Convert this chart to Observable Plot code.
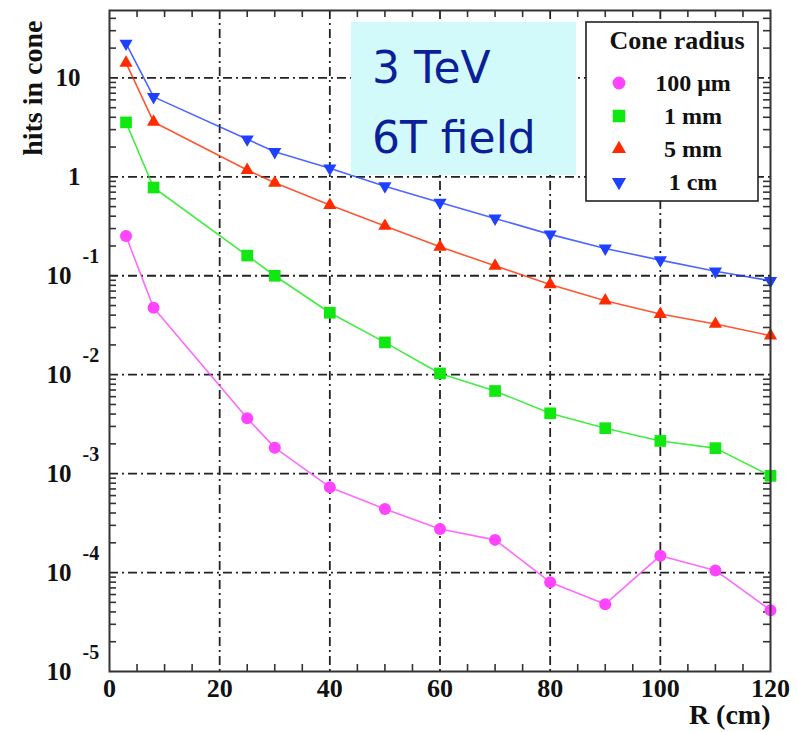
<!DOCTYPE html>
<html><head><meta charset="utf-8">
<script src="https://cdn.jsdelivr.net/npm/d3@7"></script>
<script src="https://cdn.jsdelivr.net/npm/@observablehq/plot@0.6"></script>
<style>body{margin:0;background:#fff}</style>
</head><body><div id="chart"></div>
<script>
// ---- data ----
const radiusR = [3, 8, 25, 30, 40, 50, 60, 70, 80, 90, 100, 110, 120];
const hits100um = [0.252, 0.0475, 0.00363, 0.00183, 0.00073, 0.00044, 0.000276, 0.000214, 0.00008, 0.0000479, 0.000148, 0.000105, 0.0000416];
const hits1mm = [3.55, 0.78, 0.16, 0.1, 0.0423, 0.0212, 0.0103, 0.00684, 0.00407, 0.00288, 0.00214, 0.00181, 0.00095];
const hits5mm = [14.2, 3.59, 1.17, 0.87, 0.518, 0.318, 0.196, 0.126, 0.0818, 0.056, 0.041, 0.0325, 0.0248];
const hits1cm = [22.3, 6.43, 2.40, 1.79, 1.22, 0.805, 0.551, 0.38, 0.262, 0.189, 0.144, 0.111, 0.089];
const seriesNames = ["100 \u03bcm", "1 mm", "5 mm", "1 cm"];
const seriesValues = [hits100um, hits1mm, hits5mm, hits1cm];
const xTickValues = [0, 20, 40, 60, 80, 100, 120];
const xTickLabels = ["0", "20", "40", "60", "80", "100", "120"];
const yTickValues = [1e-5, 1e-4, 1e-3, 1e-2, 1e-1, 1, 10];
const yExpLabels = ["-5", "-4", "-3", "-2", "-1"];
const yPlainLabels = ["1", "10"];
const xTitle = ["R (cm)"];
const yTitle = ["hits in cone"];
const legendTitle = "Cone radius";
const noteLines = ["3 TeV", "6T field"];

// ---- styles ----
const colors = ["#ff44ff", "#11e811", "#ff2a00", "#2040ff"];
const triangleDown = {draw(ctx, size) {
  const s3 = Math.sqrt(3);
  const y = -Math.sqrt(size / (s3 * 3));
  ctx.moveTo(0, -y * 2); ctx.lineTo(-s3 * y, y); ctx.lineTo(s3 * y, y); ctx.closePath();
}};
const symbols = [d3.symbolCircle, d3.symbolSquare, d3.symbolTriangle, triangleDown];
const markerR = [6, 6.6, 4.9, 4.9];

const W = 797, H = 732, mL = 109, mR = 27, mT = 10, mB = 61;
const fW = W - mL - mR, fH = H - mT - mB;
const serif = "'Liberation Serif', 'Times New Roman', serif";

const table = [];
seriesNames.forEach((s, i) => radiusR.forEach((r, j) => table.push({series: s, R: r, hits: seriesValues[i][j]})));

const xMinor = d3.range(5, 120, 5).filter(v => v % 20 !== 0);
const yMinor = [];
for (let e = -5; e <= 1; e++) for (let m = 2; m <= 9; m++) { const v = m * Math.pow(10, e); if (v < 48) yMinor.push(v); }
const xGrid = xTickValues.filter(v => v > 0 && v < 120);
const yGrid = yTickValues.filter(v => v > 1e-5);

const grid = {stroke: "#222", strokeWidth: 1.8, strokeDasharray: "9,4,2,4"};
const tk = {stroke: "#333", strokeWidth: 1.6};

const marks = [
  Plot.ruleX(xGrid, grid),
  Plot.ruleY(yGrid, grid),
  Plot.ruleX(xMinor, {...tk, insetTop: fH - 7}),
  Plot.ruleX(xMinor, {...tk, insetBottom: fH - 7}),
  Plot.ruleY(yMinor, {...tk, insetRight: fW - 7}),
  Plot.ruleY(yMinor, {...tk, insetLeft: fW - 7}),
];
seriesNames.forEach((s, i) => {
  const d = table.filter(t => t.series === s);
  marks.push(Plot.line(d, {x: "R", y: "hits", stroke: colors[i], strokeWidth: 1.6, strokeOpacity: 0.8}));
  marks.push(Plot.dot(d, {x: "R", y: "hits", fill: colors[i], symbol: symbols[i], r: markerR[i]}));
});
marks.push(
  Plot.frame({stroke: "#333", strokeWidth: 2}),
  Plot.text(xTickValues, {x: d => d, text: (d, i) => xTickLabels[i], frameAnchor: "bottom", dy: 17, lineAnchor: "middle", fontSize: 26, fontWeight: "bold", fontFamily: serif, fill: "#111"}),
  Plot.text(yTickValues.slice(0, 5), {y: d => d, text: () => "10", frameAnchor: "left", dx: -38, textAnchor: "end", lineAnchor: "middle", fontSize: 25, fontWeight: "bold", fontFamily: serif, fill: "#111"}),
  Plot.text(yTickValues.slice(0, 5), {y: d => d, text: (d, i) => yExpLabels[i], frameAnchor: "left", dx: -27, dy: -19, textAnchor: "start", lineAnchor: "middle", fontSize: 20, fontWeight: "bold", fontFamily: serif, fill: "#111"}),
  Plot.text(yTickValues.slice(5), {y: d => d, text: (d, i) => yPlainLabels[i], frameAnchor: "left", dx: -29, textAnchor: "end", lineAnchor: "middle", fontSize: 25, fontWeight: "bold", fontFamily: serif, fill: "#111"}),
  Plot.text(xTitle, {frameAnchor: "bottom-right", dy: 52, textAnchor: "end", lineAnchor: "bottom", fontSize: 28, fontWeight: "bold", fontFamily: serif, fill: "#111"}),
  Plot.text(yTitle, {frameAnchor: "top-left", dx: -67.5, dy: 10, rotate: -90, textAnchor: "end", lineAnchor: "bottom", fontSize: 28, fontWeight: "bold", fontFamily: serif, fill: "#111"})
);

const svgEl = Plot.plot({
  width: W, height: H,
  marginLeft: mL, marginRight: mR, marginTop: mT, marginBottom: mB,
  x: {domain: [0, 120], axis: null},
  y: {type: "log", domain: [1e-5, 48], axis: null},
  style: {background: "#fff", overflow: "visible"},
  marks
});
document.getElementById("chart").appendChild(svgEl);

// ---- annotation box and legend ----
const svg = d3.select(svgEl);
const note = svg.append("g").attr("text-anchor", "start");
note.append("rect").attr("x", 351).attr("y", 22).attr("width", 225).attr("height", 153).attr("fill", "#d2fafa");
noteLines.forEach((t, i) => note.append("text").attr("x", 372).attr("y", 83 + i * 70).attr("text-anchor", "start")
  .attr("font-family", "'Comic Sans MS', 'DejaVu Sans', sans-serif").attr("font-size", 44).attr("fill", "#0c1f99").text(t));

const lg = svg.append("g");
lg.append("rect").attr("x", 586).attr("y", 22).attr("width", 172).attr("height", 179)
  .attr("fill", "#fff").attr("stroke", "#222").attr("stroke-width", 1.6);
lg.append("text").attr("x", 677).attr("y", 49).attr("text-anchor", "middle")
  .attr("font-family", serif).attr("font-weight", "bold").attr("font-size", 26).attr("fill", "#111").text(legendTitle);
seriesNames.forEach((s, i) => {
  const cy = 83 + i * 33;
  lg.append("path").attr("transform", `translate(619,${cy})`)
    .attr("d", d3.symbol(symbols[i], Math.PI * markerR[i] * markerR[i] * 1.15)()).attr("fill", colors[i]);
  lg.append("text").attr("x", 693).attr("y", cy + 7.5).attr("text-anchor", "middle")
    .attr("font-family", serif).attr("font-weight", "bold").attr("font-size", 24).attr("fill", "#111").text(s);
});
</script>
</body></html>
